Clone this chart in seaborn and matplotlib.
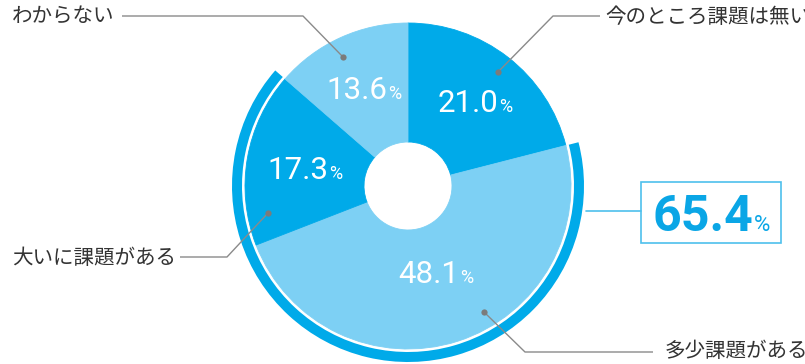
import numpy as np
import matplotlib
matplotlib.use("Agg")
import matplotlib.pyplot as plt
from matplotlib.patches import Rectangle
import seaborn as sns

# Survey answers, clockwise from 12 o'clock
categories = ["今のところ課題は無い", "多少課題がある", "大いに課題がある", "わからない"]
shares = [21.0, 48.1, 17.3, 13.6]
# answers that together form the highlighted "has issues" group
group_members = ["多少課題がある", "大いに課題がある"]

sns.set_theme(style="white")
plt.rcParams["font.family"] = ["Noto Sans CJK JP", "DejaVu Sans"]

DARK = "#00AAE9"
LIGHT = "#7DD0F4"
palette = sns.color_palette([DARK, LIGHT, DARK, LIGHT])

W, H = 805, 364
fig = plt.figure(figsize=(W / 100, H / 100), dpi=100)
ax = fig.add_axes([0, 0, 1, 1])

cx, cy = 408, 186
R = 163
HOLE = 44

# donut (y axis runs downward, so counterclock=True draws clockwise on screen)
wedges, _ = ax.pie(shares, colors=palette, startangle=270, counterclock=True,
                   center=(cx, cy), radius=R,
                   wedgeprops=dict(width=R - HOLE, linewidth=0.6))
for w in wedges:
    w.set_edgecolor(w.get_facecolor())

# outer arc around the grouped answers
idx = [categories.index(c) for c in group_members]
group_total = round(sum(shares[i] for i in idx), 1)
ring_vals = [sum(shares[:min(idx)]), group_total, sum(shares[max(idx) + 1:])]
ax.pie(ring_vals, colors=["none", DARK, "none"], startangle=270, counterclock=True,
       center=(cx, cy), radius=176, wedgeprops=dict(width=10, linewidth=0))

ax.set_xlim(0, W)
ax.set_ylim(H, 0)
ax.set_aspect("equal")
ax.axis("off")

renderer = fig.canvas.get_renderer()
NUM_FONT = ["Roboto", "DejaVu Sans"]


def value_label(xc, yc, number, size_num, size_pct, color, weight):
    t1 = ax.text(0, 0, number, fontsize=size_num, color=color, fontweight=weight,
                 family=NUM_FONT, ha="left", va="baseline")
    t2 = ax.text(0, 0, "%", fontsize=size_pct, color=color, fontweight="normal",
                 family=NUM_FONT, ha="left", va="baseline")
    w1 = t1.get_window_extent(renderer).width
    w2 = t2.get_window_extent(renderer).width
    x0 = xc - (w1 + w2) / 2
    yb = yc + 0.71 * size_num * 100 / 72 / 2
    t1.set_position((x0, yb))
    t2.set_position((x0 + w1 + 1, yb))


# percentage inside each slice, on the slice's middle angle
cum = np.concatenate([[0], np.cumsum(shares)])
mid_deg = (cum[:-1] + cum[1:]) / 2 / 100 * 360
label_r = [108, 90, 105, 108]
for val, a, r in zip(shares, np.radians(mid_deg), label_r):
    value_label(cx + r * np.sin(a), cy - r * np.cos(a), f"{val:.1f}", 22.5, 13,
                "white", "normal")

# category call-outs
GREY = "#8a8a8a"
callouts = {
    "わからない": ([(122, 16), (303, 16), (343, 57)], (12, 17)),
    "今のところ課題は無い": ([(600, 16), (553, 16), (498, 72)], (605, 17)),
    "大いに課題がある": ([(180, 257), (227, 257), (268, 213)], (12, 258)),
    "多少課題がある": ([(653, 352), (525, 352), (484, 312)], (665, 351)),
}
for name in categories:
    pts, tpos = callouts[name]
    xs, ys = zip(*pts)
    ax.plot(xs, ys, color=GREY, lw=1.0, solid_capstyle="butt")
    ax.plot(xs[-1], ys[-1], "o", color="#7b7b7b", ms=4.5, mew=0)
    ax.text(tpos[0], tpos[1], name, fontsize=14.8, color="#333333",
            ha="left", va="center")

# grouped total in a box
BOX = "#4EC0EC"
ax.plot([586, 641], [211, 211], color=BOX, lw=1.2)
ax.add_patch(Rectangle((641, 182), 140, 61, fill=False, edgecolor=BOX, lw=1.2))
value_label(711, 213, f"{group_total:.1f}", 36, 16, "#0AA6E6", "bold")

fig.savefig("out.png", dpi=100)
